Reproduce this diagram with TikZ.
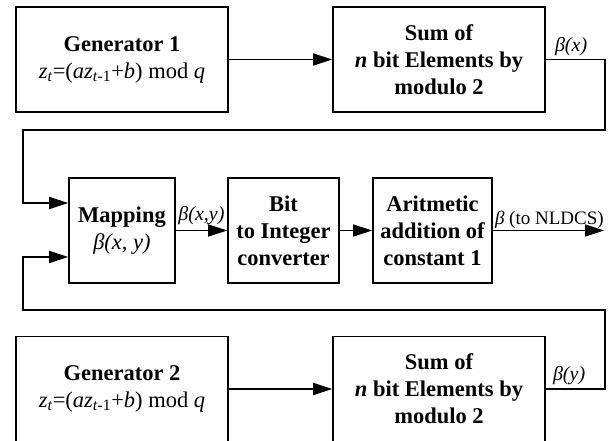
\documentclass[tikz,border=0pt]{standalone}
\usepackage{fontspec}
\setmainfont{Liberation Serif}
\usetikzlibrary{arrows.meta,calc}
\newcommand\lcgform{{\mdseries\textit{z}\textsubscript{\textit{t}}=(\textit{az}\textsubscript{\textit{t}-1}+\textit{b}) mod \textit{q}}}
\begin{document}
\begin{tikzpicture}[x=1pt,y=-1pt,
  blk/.style={draw, line width=1.6pt, minimum height=105pt, align=center,
    inner sep=0pt, font=\fontsize{22.5}{27}\selectfont\bfseries},
  link/.style={line width=1.6pt, -{Triangle[length=19pt,width=12pt]}},
  lbl/.style={font=\fontsize{20}{23}\selectfont, inner sep=1pt}]
\useasboundingbox (0,0) rectangle (616,441);
\clip (0,0) rectangle (616,441);

% blocks
\node[blk, minimum width=212pt] (gen1) at (122,59.5) {Generator 1\\ \lcgform};
\node[blk, minimum width=212pt] (sum1) at (439,59.5) {Sum of\\ \textit{n} bit Elements by\\ modulo 2};
\node[blk, minimum width=106pt] (map) at (122,230.5) {Mapping\\ {\mdseries\itshape β(x, y)}};
\node[blk, minimum width=111pt] (bit) at (283.5,230.5) {Bit\\ to Integer\\ converter};
\node[blk, minimum width=119pt] (arith) at (432.5,230.5) {Aritmetic\\ addition of\\ constant 1};
\node[blk, minimum width=212pt] (gen2) at (122,389) {Generator 2\\ \lcgform};
\node[blk, minimum width=212pt] (sum2) at (439,389) {Sum of\\ \textit{n} bit Elements by\\ modulo 2};

% routing points
\coordinate (r1) at (605,59.5);
\coordinate (r2) at (605,130);
\coordinate (l1) at (23,130);
\coordinate (in1) at ($(map.west)+(0,-27.5)$);
\coordinate (r3) at (605,389);
\coordinate (r4) at (605,310);
\coordinate (l2) at (23,310);
\coordinate (in2) at ($(map.west)+(0,26.5)$);
\coordinate (out) at (604,230.5);

% connectors
\draw[link] (gen1) -- (sum1);
\draw[link] (gen2) -- (sum2);
\draw[link] (sum1.east) -- (r1) -- (r2) -- (l1) |- (in1);
\draw[link] (sum2.east) -- (r3) -- (r4) -- (l2) |- (in2);
\draw[link] (map) -- (bit);
\draw[link] (bit) -- (arith);
\draw[link] (arith) -- (out);

% signal labels
\node[lbl, anchor=south west] at ($(sum1.east)+(8,-3)$) {\itshape β(x)};
\node[lbl, anchor=south west] at ($(sum2.east)+(6,-3)$) {\itshape β(y)};
\node[lbl, anchor=south] at ($(map.east)!0.5!(bit.west)+(0,-4)$) {\itshape β(x,y)};
\node[lbl, anchor=south west, font=\fontsize{19}{22}\selectfont] at ($(arith.east)+(1,-1)$) {\textit{β} (to NLDCS)};
\end{tikzpicture}
\end{document}
